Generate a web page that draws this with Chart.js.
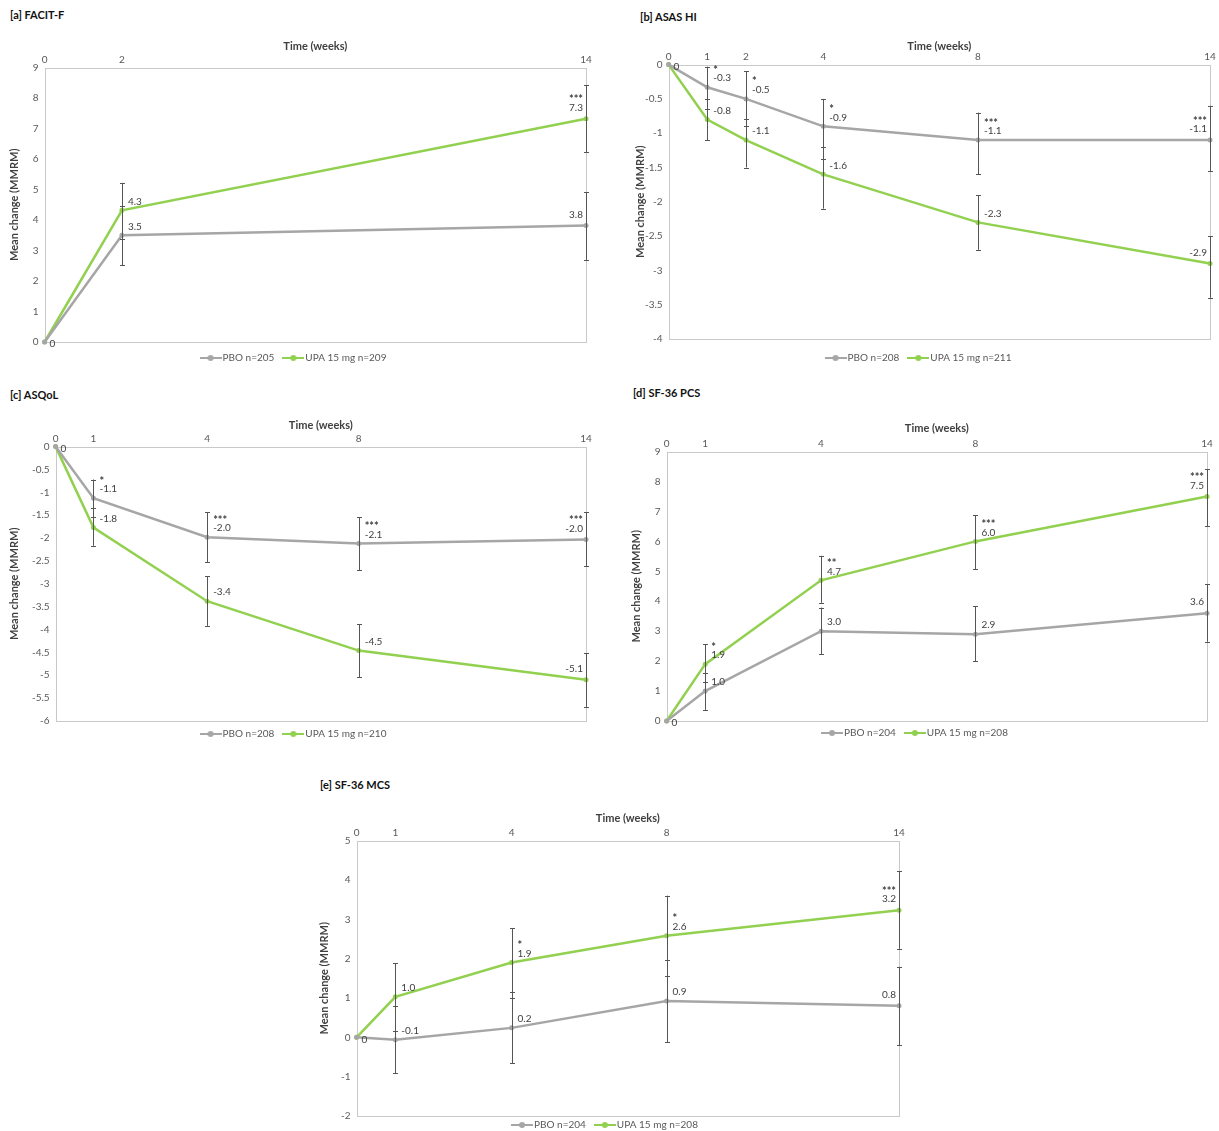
<!DOCTYPE html>
<html>
<head>
<meta charset="utf-8">
<script src="https://cdn.jsdelivr.net/npm/chart.js@4.4.1/dist/chart.umd.min.js"></script>
<style>
  body { margin: 0; background: #fff; width: 1219px; height: 1131px; position: relative; overflow: hidden; font-family: Lato, sans-serif; }
  .ttl { position: absolute; font-weight: bold; font-size: 11px; color: #111; line-height: 14px; }
  canvas { position: absolute; }
</style>
</head>
<body>
<div class="ttl" style="left:10px;top:8px">[a] FACIT-F</div>
<div class="ttl" style="left:640px;top:10px">[b] ASAS HI</div>
<div class="ttl" style="left:10px;top:388px">[c] ASQoL</div>
<div class="ttl" style="left:633px;top:386px">[d] SF-36 PCS</div>
<div class="ttl" style="left:320px;top:778px">[e] SF-36 MCS</div>
<canvas id="cA"></canvas>
<canvas id="cB"></canvas>
<canvas id="cC"></canvas>
<canvas id="cD"></canvas>
<canvas id="cE"></canvas>
<script>
// [a] FACIT-F
const facitWeeks = [0, 2, 14];
const facitPbo = [0, 3.5, 3.82];
const facitUpa = [0, 4.32, 7.32];
const facitPboLo = [0, 2.52, 2.68];
const facitPboHi = [0, 4.45, 4.92];
const facitUpaLo = [0, 3.38, 6.22];
const facitUpaHi = [0, 5.22, 8.42];
const facitStars = ['', '', '***'];

// [b] ASAS HI
const asasWeeks = [0, 1, 2, 4, 8, 14];
const asasPbo = [0, -0.33, -0.5, -0.9, -1.1, -1.1];
const asasUpa = [0, -0.8, -1.1, -1.6, -2.3, -2.9];
const asasPboLo = [0, -0.65, -0.9, -1.38, -1.6, -1.55];
const asasPboHi = [0, -0.03, -0.1, -0.5, -0.7, -0.6];
const asasUpaLo = [0, -1.1, -1.5, -2.1, -2.7, -3.4];
const asasUpaHi = [0, -0.5, -0.8, -1.2, -1.9, -2.5];
const asasStars = ['', '*', '*', '*', '***', '***'];

// [c] ASQoL
const asqolWeeks = [0, 1, 4, 8, 14];
const asqolPbo = [0, -1.13, -1.98, -2.12, -2.03];
const asqolUpa = [0, -1.77, -3.38, -4.46, -5.1];
const asqolPboLo = [0, -1.54, -2.53, -2.7, -2.62];
const asqolPboHi = [0, -0.72, -1.43, -1.54, -1.44];
const asqolUpaLo = [0, -2.17, -3.92, -5.04, -5.69];
const asqolUpaHi = [0, -1.34, -2.83, -3.88, -4.52];
const asqolStars = ['', '*', '***', '***', '***'];

// [d] SF-36 PCS
const pcsWeeks = [0, 1, 4, 8, 14];
const pcsPbo = [0, 1.0, 3.0, 2.9, 3.6];
const pcsUpa = [0, 1.9, 4.7, 6.0, 7.5];
const pcsPboLo = [0, 0.37, 2.24, 2.0, 2.65];
const pcsPboHi = [0, 1.59, 3.79, 3.84, 4.57];
const pcsUpaLo = [0, 1.31, 3.95, 5.08, 6.51];
const pcsUpaHi = [0, 2.56, 5.52, 6.88, 8.41];
const pcsStars = ['', '*', '**', '***', '***'];

// [e] SF-36 MCS
const mcsWeeks = [0, 1, 4, 8, 14];
const mcsPbo = [0, -0.06, 0.24, 0.92, 0.8];
const mcsUpa = [0, 1.03, 1.9, 2.58, 3.23];
const mcsPboLo = [0, -0.91, -0.66, -0.13, -0.2];
const mcsPboHi = [0, 0.8, 1.14, 1.96, 1.79];
const mcsUpaLo = [0, 0.16, 0.99, 1.55, 2.25];
const mcsUpaHi = [0, 1.88, 2.78, 3.6, 4.22];
const mcsStars = ['', '', '*', '*', '***'];

const GREY = '#a6a6a6';
const GREEN = '#92d050';
const FONT = 'Lato, sans-serif';

Chart.defaults.font.family = FONT;
Chart.defaults.color = '#595959';

function legendIcon(color) {
    const c = document.createElement('canvas');
    c.width = 22; c.height = 8;
    const g = c.getContext('2d');
    g.strokeStyle = color; g.lineWidth = 2;
    g.beginPath(); g.moveTo(0, 4); g.lineTo(22, 4); g.stroke();
    g.fillStyle = color;
    g.beginPath(); g.arc(11, 4, 3, 0, Math.PI * 2); g.fill();
    return c;
}
const icons = [legendIcon(GREY), legendIcon(GREEN)];

// plot box: l, r, t, b; tY = "Time (weeks)" centre, yX = y title centre, lgY = legend centre
function drawPanel(id, box, weeks, pbo, upa, lows, highs, stars, yr, names) {
    const left = box.yX - 10.6;
    const top = box.tY - 10.6;
    const legPad = 12;
    const legGap = box.lgY - box.b - 5 - legPad - 1;
    const rightPad = 12;
    const w = box.r - left + rightPad;
    const h = box.b - top + legGap + 1 + legPad + 20;
    const cv = document.getElementById(id);
    cv.width = w; cv.height = h;
    cv.style.left = left + 'px'; cv.style.top = top + 'px';

    const series = [pbo, upa];

    const extras = {
        id: 'extras' + id,
        beforeDatasetsDraw(chart) {
            const {ctx, chartArea: a} = chart;
            ctx.save();
            ctx.strokeStyle = '#c9c9c9';
            ctx.lineWidth = 1;
            ctx.strokeRect(Math.round(a.left) + 0.5, Math.round(a.top) + 0.5, Math.round(a.right - a.left), Math.round(a.bottom - a.top));
            ctx.restore();
        },
        afterDatasetsDraw(chart) {
            const {ctx, scales: {x, y}} = chart;
            ctx.save();
            ctx.strokeStyle = '#555555';
            ctx.lineWidth = 1;
            for (let s = 0; s < 2; s++) {
                weeks.forEach((wk, i) => {
                    if (i === 0) return;
                    const px = Math.round(x.getPixelForValue(wk)) + 0.5;
                    const y1 = y.getPixelForValue(lows[s][i]);
                    const y2 = y.getPixelForValue(highs[s][i]);
                    ctx.beginPath();
                    ctx.moveTo(px, y1); ctx.lineTo(px, y2);
                    ctx.moveTo(px - 2.5, Math.round(y1) + 0.5); ctx.lineTo(px + 2.5, Math.round(y1) + 0.5);
                    ctx.moveTo(px - 2.5, Math.round(y2) + 0.5); ctx.lineTo(px + 2.5, Math.round(y2) + 0.5);
                    ctx.stroke();
                });
            }
            ctx.fillStyle = '#404040';
            ctx.textBaseline = 'middle';
            const last = weeks.length - 1;
            weeks.forEach((wk, i) => {
                const px = x.getPixelForValue(wk);
                ctx.font = '10px ' + FONT;
                if (i === 0) {
                    ctx.textAlign = 'left';
                    ctx.fillText('0', px + 5, y.getPixelForValue(0) + 2);
                    return;
                }
                const upper = pbo[i] > upa[i] ? 0 : 1;
                for (let s = 0; s < 2; s++) {
                    const v = series[s][i];
                    const py = y.getPixelForValue(v);
                    let tx, ty;
                    if (i === last) {
                        ctx.textAlign = 'right'; tx = px - 3; ty = py - 11;
                    } else {
                        ctx.textAlign = 'left'; tx = px + 6; ty = py - 9;
                    }
                    ctx.font = '10px ' + FONT;
                    ctx.fillText(v.toFixed(1), tx, ty);
                    if (s === upper && stars[i]) {
                        ctx.font = 'bold 11px ' + FONT;
                        ctx.fillText(stars[i], tx, ty - 8);
                    }
                }
            });
            ctx.restore();
        }
    };

    return new Chart(cv, {
        type: 'line',
        data: {
            datasets: [
                {
                    label: names[0],
                    data: weeks.map((wk, i) => ({x: wk, y: pbo[i]})),
                    borderColor: GREY, backgroundColor: GREY,
                    borderWidth: 2.5, pointRadius: 2.5, pointBorderWidth: 0,
                    tension: 0, clip: false
                },
                {
                    label: names[1],
                    data: weeks.map((wk, i) => ({x: wk, y: upa[i]})),
                    borderColor: GREEN, backgroundColor: GREEN,
                    borderWidth: 2.5, pointRadius: 2.5, pointBorderWidth: 0,
                    tension: 0, clip: false
                }
            ]
        },
        options: {
            responsive: false,
            animation: false,
            devicePixelRatio: 1,
            layout: {padding: {left: 0, right: rightPad, top: 0, bottom: 0}},
            plugins: {
                tooltip: {enabled: false},
                legend: {
                    position: 'bottom',
                    // empty title only used as a spacer above the items
                    title: {display: true, text: '', font: {size: 1, lineHeight: 1}, padding: {top: legGap, bottom: 0}},
                    labels: {
                        usePointStyle: true,
                        pointStyleWidth: 14,
                        boxHeight: 10,
                        padding: legPad,
                        font: {size: 10},
                        color: '#595959',
                        generateLabels(chart) {
                            const items = Chart.defaults.plugins.legend.labels.generateLabels(chart);
                            items.forEach(it => { it.pointStyle = icons[it.datasetIndex]; });
                            return items;
                        }
                    }
                }
            },
            scales: {
                x: {
                    type: 'linear',
                    position: 'top',
                    min: 0, max: 14,
                    grid: {display: false, drawTicks: false},
                    border: {display: false},
                    afterBuildTicks(s) { s.ticks = weeks.map(v => ({value: v})); },
                    afterFit(s) { s.height = box.t - top; },
                    ticks: {padding: 2, font: {size: 10}, color: '#595959', autoSkip: false, maxRotation: 0},
                    title: {display: true, text: 'Time (weeks)', font: {size: 11, weight: 'bold'}, color: '#404040', padding: {top: 4, bottom: 0}}
                },
                y: {
                    min: yr[0], max: yr[1],
                    grid: {display: false, drawTicks: false},
                    border: {display: false},
                    afterFit(s) { s.width = box.l - left; },
                    ticks: {
                        stepSize: yr[2], padding: 6, font: {size: 10}, color: '#595959',
                        callback: v => String(Math.round(v * 10) / 10)
                    },
                    title: {display: true, text: 'Mean change (MMRM)', font: {size: 11, weight: 'bold'}, color: '#404040', padding: {top: 4, bottom: 0}}
                }
            }
        },
        plugins: [extras]
    });
}

drawPanel('cA', {l: 45, r: 587, t: 68, b: 343, tY: 47, yX: 15, lgY: 359},
    facitWeeks, facitPbo, facitUpa, [facitPboLo, facitUpaLo], [facitPboHi, facitUpaHi], facitStars,
    [0, 9, 1], ['PBO n=205', 'UPA 15 mg n=209']);

drawPanel('cB', {l: 669, r: 1211, t: 65, b: 340, tY: 47, yX: 641, lgY: 359},
    asasWeeks, asasPbo, asasUpa, [asasPboLo, asasUpaLo], [asasPboHi, asasUpaHi], asasStars,
    [-4, 0, 0.5], ['PBO n=208', 'UPA 15 mg n=211']);

drawPanel('cC', {l: 56, r: 587, t: 447, b: 722, tY: 426, yX: 15, lgY: 735},
    asqolWeeks, asqolPbo, asqolUpa, [asqolPboLo, asqolUpaLo], [asqolPboHi, asqolUpaHi], asqolStars,
    [-6, 0, 0.5], ['PBO n=208', 'UPA 15 mg n=210']);

drawPanel('cD', {l: 667, r: 1208, t: 452, b: 722, tY: 429, yX: 637, lgY: 734},
    pcsWeeks, pcsPbo, pcsUpa, [pcsPboLo, pcsUpaLo], [pcsPboHi, pcsUpaHi], pcsStars,
    [0, 9, 1], ['PBO n=204', 'UPA 15 mg n=208']);

drawPanel('cE', {l: 357, r: 900, t: 841, b: 1117, tY: 819, yX: 325, lgY: 1126},
    mcsWeeks, mcsPbo, mcsUpa, [mcsPboLo, mcsUpaLo], [mcsPboHi, mcsUpaHi], mcsStars,
    [-2, 5, 1], ['PBO n=204', 'UPA 15 mg n=208']);
</script>
</body>
</html>
